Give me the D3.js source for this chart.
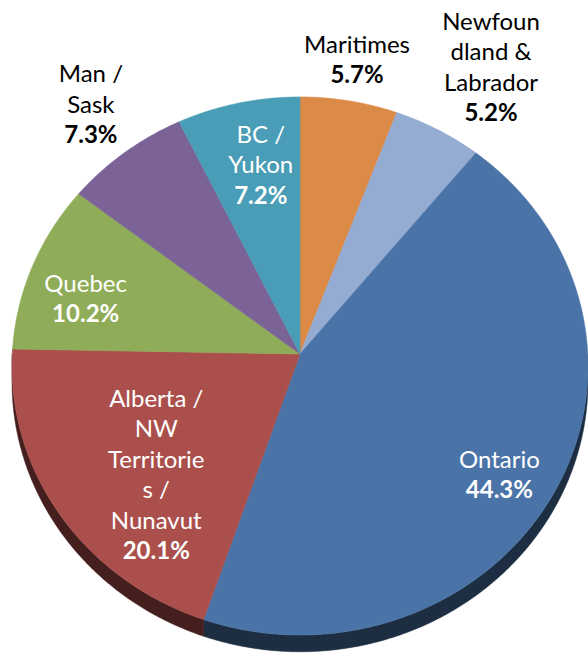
<!DOCTYPE html>
<html>
<head>
<meta charset="utf-8">
<script src="https://cdn.jsdelivr.net/npm/d3@7"></script>
<style>
  body{margin:0;background:#fff}
  svg{display:block}
</style>
</head>
<body>
<div id="chart"></div>
<script>
// data, clockwise from 12 o'clock
const regions=["Maritimes","Newfoundland & Labrador","Ontario","Alberta / NW Territories / Nunavut","Quebec","Man / Sask","BC / Yukon"]
const shares=[5.7,5.2,44.3,20.1,10.2,7.3,7.2]
const labelLines=[["Maritimes"],["Newfoun","dland &","Labrador"],["Ontario"],["Alberta /","NW","Territorie","s /","Nunavut"],["Quebec"],["Man /","Sask"],["BC /","Yukon"]]
const colors=["#dc8a47","#94abd2","#4a74a7","#ab4f4c","#8fac58","#7b6397","#4a9db6"]

// label layout (radius as share of pie radius, angle nudge in degrees)
const labelR=[1.17,1.32,0.81,0.66,0.78,1.23,0.74]
const labelNudge=[0,2,4,-7,-4,1,2]
const labelDark=[true,true,false,false,false,true,false]

const width=588,height=656
const cx=300,cy=354
const ax=287.7,by=268.5,k=0.0446,depth=16

const svg=d3.select("#chart").append("svg")
  .attr("width",width).attr("height",height)

// tilted disc: angle measured clockwise from top, rad 0..1
function proj(a,rad,drop){
  const u=Math.sin(a)*rad, v=-Math.cos(a)*rad
  const w=1-k*v
  return [cx+ax*u/w, cy+(by*v+(drop||0))/w]
}

const pie=d3.pie().sort(null).value(d=>d)
const arcs=pie(shares)
const line=d3.line()

function rim(a0,a1,drop){
  const n=Math.max(2,Math.ceil((a1-a0)/0.008))
  return d3.range(n+1).map(i=>proj(a0+(a1-a0)*i/n,1,drop))
}

// side wall first (only the front half shows)
const walls=svg.append("g")
arcs.forEach((d,i)=>{
  let a0=Math.max(d.startAngle,Math.PI/2), a1=Math.min(d.endAngle,Math.PI*1.5)
  if(a1<=a0) return
  const top=rim(a0,a1,0), bot=rim(a0,a1,depth).reverse()
  walls.append("path")
    .attr("d",line(top.concat(bot))+"Z")
    .attr("fill",d3.color(colors[i]).darker(2.6))
    .attr("stroke",d3.color(colors[i]).darker(2.6))
    .attr("stroke-width",0.5)
})

// top faces
const faces=svg.append("g")
arcs.forEach((d,i)=>{
  const pts=[[cx,cy]].concat(rim(d.startAngle,d.endAngle,0))
  faces.append("path")
    .attr("d",line(pts)+"Z")
    .attr("fill",colors[i])
    .attr("stroke",colors[i])
    .attr("stroke-width",0.6)
})

// labels
const lh=30.5
const lab=svg.append("g")
  .style("font-family","Lato, 'Open Sans', sans-serif")
  .style("font-size","24px")
  .attr("text-anchor","middle")
arcs.forEach((d,i)=>{
  const mid=(d.startAngle+d.endAngle)/2+labelNudge[i]*Math.PI/180
  const p=proj(mid,labelR[i],0)
  const lines=labelLines[i].concat([shares[i].toFixed(1)+"%"])
  const y0=p[1]-(lines.length-1)*lh/2+8
  const t=lab.append("text")
    .attr("fill",labelDark[i]?"#000":"#fff")
  lines.forEach((s,j)=>{
    t.append("tspan")
      .attr("x",p[0]).attr("y",y0+j*lh)
      .attr("font-weight",j==lines.length-1?"bold":"normal")
      .text(s)
  })
})
</script>
</body>
</html>
